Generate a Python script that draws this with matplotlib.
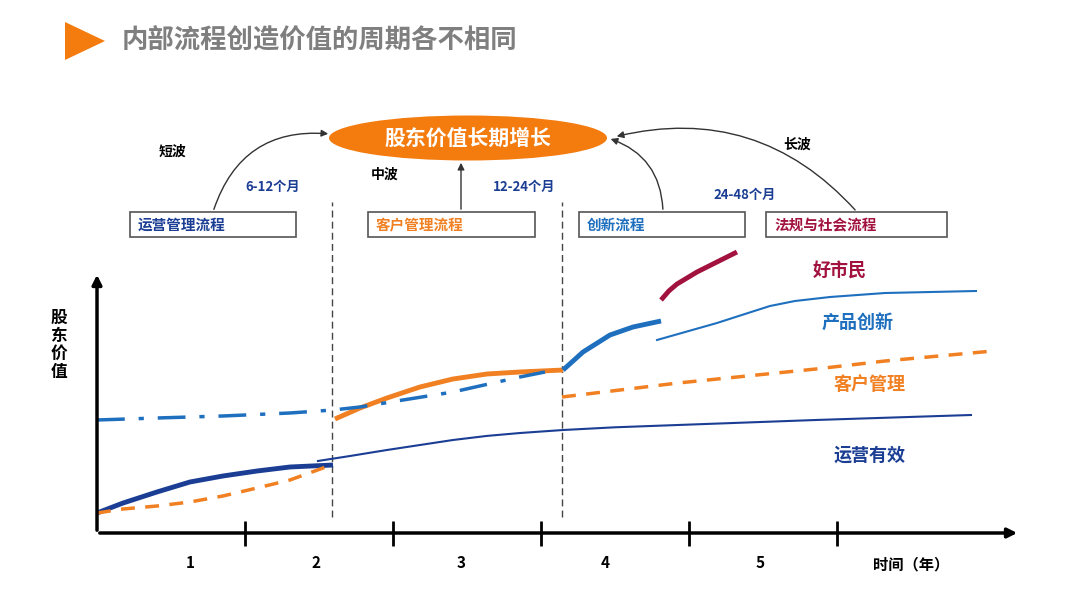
import numpy as np
import matplotlib.pyplot as plt
from matplotlib.patches import Ellipse, Rectangle, Polygon, FancyArrowPatch

plt.rcParams['font.family'] = ['Noto Sans CJK SC', 'DejaVu Sans']
plt.rcParams['font.weight'] = 'bold'

# time in years (x), shareholder value in arbitrary units 0-100 (y)
ops_early_x = [0.0, 0.176, 0.405, 0.628, 0.851, 1.081, 1.304, 1.595]
ops_early_y = [7.66, 11.49, 15.71, 19.54, 21.84, 23.75, 25.29, 26.05]
ops_late_x = [1.493, 1.709, 1.959, 2.405, 2.635, 2.858, 3.149, 3.500, 3.926, 4.858, 5.905]
ops_late_y = [27.59, 29.50, 31.80, 35.63, 37.2, 38.31, 39.46, 40.5, 41.38, 43.30, 45.21]

cust_early_x = [0.0, 0.176, 0.405, 0.628, 0.851, 1.081, 1.304, 1.527, 1.595]
cust_early_y = [7.66, 9.20, 10.34, 11.88, 14.18, 17.24, 20.31, 24.90, 26.05]
cust_mid_x = [1.608, 1.777, 1.959, 2.182, 2.405, 2.635, 2.858, 3.149]
cust_mid_y = [43.68, 47.89, 51.72, 55.94, 59.00, 60.92, 61.69, 62.45]
cust_late_x = [3.142, 3.926, 4.858, 5.324, 6.054]
cust_late_y = [52.11, 57.47, 62.84, 65.90, 69.73]

inno_dashdot_x = [0.0, 0.405, 0.851, 1.304, 1.595, 1.777, 2.068, 2.405, 2.676, 2.858, 3.027]
inno_dashdot_y = [43.30, 44.06, 44.83, 45.98, 47.13, 48.28, 50.96, 54.02, 57.47, 59.77, 61.69]
inno_mid_x = [3.149, 3.284, 3.466, 3.622, 3.811]
inno_mid_y = [62.45, 69.35, 75.86, 78.93, 81.23]
inno_late_x = [3.784, 4.189, 4.378, 4.547, 4.716, 4.953, 5.324, 5.939]
inno_late_y = [73.95, 80.46, 83.91, 86.97, 88.89, 90.42, 91.95, 92.72]

citizen_x = [3.811, 3.865, 3.919, 4.054, 4.189, 4.324]
citizen_y = [89.27, 92.8, 95.4, 100.0, 103.83, 107.66]

tick_years = [1, 2, 3, 4, 5]
tick_label_x = [0.63, 1.48, 2.46, 3.43, 4.48]
tick_labels = ['1', '2', '3', '4', '5']
stage_lines = [1.59, 3.14]

DARK_BLUE = '#1B3E94'
BLUE = '#1F6FBF'
ORANGE = '#F08022'
CRIMSON = '#A2123F'

fig = plt.figure(figsize=(10.8, 6.08), dpi=100)

# diagram layer in pixel coordinates
bg = fig.add_axes([0, 0, 1, 1])
bg.set_xlim(0, 1080)
bg.set_ylim(608, 0)
bg.axis('off')

bg.add_patch(Polygon([[65, 22], [105, 41], [65, 60]], closed=True, color='#F47B0E', lw=0))
bg.text(122, 41, '内部流程创造价值的周期各不相同', fontsize=19, color='#7F7F7F', va='center', ha='left')

bg.add_patch(Ellipse((468, 138), 278, 45, color='#F47B0E', lw=0))
bg.text(468, 138, '股东价值长期增长', fontsize=15, color='white', ha='center', va='center')

boxes = [(130, 296, '运营管理流程', DARK_BLUE), (368, 535, '客户管理流程', ORANGE),
         (579, 745, '创新流程', BLUE), (766, 947, '法规与社会流程', CRIMSON)]
for x0, x1, label, c in boxes:
    bg.add_patch(Rectangle((x0, 212), x1 - x0, 25, fill=False, ec='#555555', lw=1.2))
    bg.text(x0 + 8, 225, label, fontsize=10.5, color=c, ha='left', va='center')

for start, end, rad in [((213, 212), (331, 134), -0.4), ((461, 212), (461, 160), 0.0),
                        ((663, 212), (608, 138), 0.35), ((857, 212), (614, 137), 0.3)]:
    bg.add_patch(FancyArrowPatch(start, end, connectionstyle=f'arc3,rad={rad}',
                                 arrowstyle='-|>', mutation_scale=10, color='#333333', lw=1.0))

for x, y, s in [(172, 152, '短波'), (385, 175, '中波'), (797, 145, '长波')]:
    bg.text(x, y, s, fontsize=10, color='black', ha='center', va='center')
for x, y, s in [(273, 187, '6-12个月'), (524, 187, '12-24个月'), (745, 195, '24-48个月')]:
    bg.text(x, y, s, fontsize=9.5, color=DARK_BLUE, ha='center', va='center')

# chart layer in data coordinates
ax = fig.add_axes([97 / 1080, 75 / 608, 923 / 1080, 261 / 608])
ax.set_xlim(0, 923 / 148)
ax.set_ylim(0, 100)
ax.patch.set_visible(False)
for s in ax.spines.values():
    s.set_visible(False)
ax.set_xticks([])
ax.set_yticks([])

ax.annotate('', xy=(0, 1), xytext=(0, 0), xycoords='axes fraction',
            arrowprops=dict(arrowstyle='-|>', color='black', lw=2.5, mutation_scale=14))
ax.annotate('', xy=(1, 0), xytext=(0, 0), xycoords='axes fraction',
            arrowprops=dict(arrowstyle='-|>', color='black', lw=2.5, mutation_scale=14))
ax.vlines(tick_years, -5, 4.6, color='black', lw=2, clip_on=False)
for x, lab in zip(tick_label_x, tick_labels):
    ax.text(x, -11.5, lab, fontsize=11, ha='center', va='center')
ax.text(5.5, -12, '时间（年）', fontsize=11, ha='center', va='center')
ax.text(-0.26, 72, '股\n东\n价\n值', fontsize=12, ha='center', va='center', linespacing=1.0)

ax.vlines(stage_lines, 6, 127, color='#444444', lw=1, linestyles=(0, (5, 3)), clip_on=False)

thick = dict(lw=3.5, solid_joinstyle='round', solid_capstyle='butt')
ax.plot(ops_early_x, ops_early_y, color=DARK_BLUE, **thick)
ax.plot(ops_late_x, ops_late_y, color=DARK_BLUE, lw=1.5, solid_joinstyle='round')
ax.plot(cust_early_x, cust_early_y, color=ORANGE, lw=2.5, ls=(0, (4, 3)))
ax.plot(cust_mid_x, cust_mid_y, color=ORANGE, **thick)
ax.plot(cust_late_x, cust_late_y, color=ORANGE, lw=2.5, ls=(0, (4, 3)))
ax.plot(inno_dashdot_x, inno_dashdot_y, color=BLUE, lw=2.5, ls=(0, (8, 4, 1.5, 4)))
ax.plot(inno_mid_x, inno_mid_y, color=BLUE, **thick)
ax.plot(inno_late_x, inno_late_y, color=BLUE, lw=1.5, solid_joinstyle='round')
ax.plot(citizen_x, citizen_y, color=CRIMSON, clip_on=False, **thick)

for x, y, s, c in [(5.02, 100.8, '好市民', CRIMSON), (5.14, 80.8, '产品创新', BLUE),
                   (5.22, 57.0, '客户管理', ORANGE), (5.22, 30.0, '运营有效', DARK_BLUE)]:
    ax.text(x, y, s, fontsize=13, color=c, ha='center', va='center')

fig.savefig('out.png', dpi=100)
